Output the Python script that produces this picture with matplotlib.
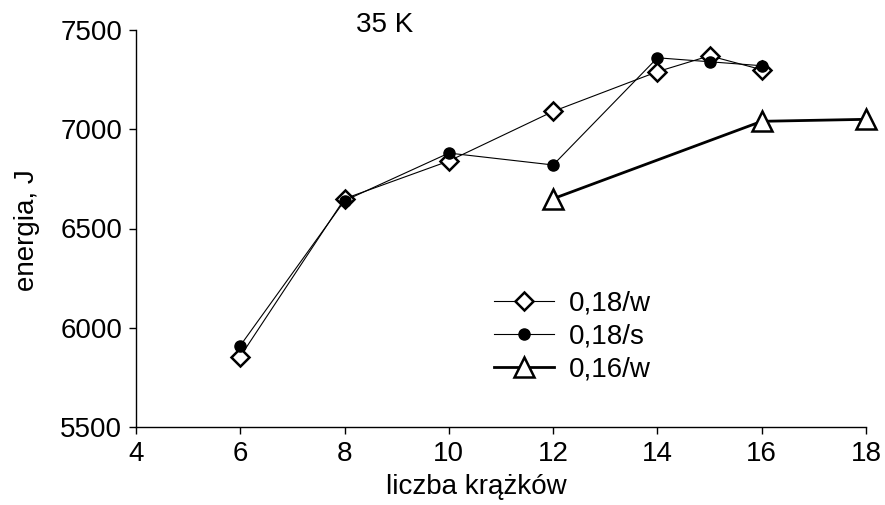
import matplotlib
matplotlib.use("Agg")
import matplotlib.pyplot as plt

plt.rcParams['font.family'] = ['Liberation Sans', 'DejaVu Sans']

# energy vs. number of discs, 35 K
x_w18 = [6, 8, 10, 12, 14, 15, 16]
e_w18 = [5855, 6650, 6840, 7090, 7290, 7370, 7300]

x_s18 = [6, 8, 10, 12, 14, 15, 16]
e_s18 = [5910, 6640, 6880, 6820, 7360, 7340, 7320]

x_w16 = [12, 16, 18]
e_w16 = [6650, 7040, 7050]

labels = ["0,18/w", "0,18/s", "0,16/w"]
xticks = [4, 6, 8, 10, 12, 14, 16, 18]
yticks = [5500, 6000, 6500, 7000, 7500]

W, H = 885, 505
fig = plt.figure(figsize=(W / 100, H / 100), dpi=100)
ax = fig.add_axes([136 / W, 1 - 427 / H, 730 / W, 397 / H])

ax.plot(x_w18, e_w18, color='black', lw=0.8, marker='D', markersize=9,
        markerfacecolor='white', markeredgecolor='black', markeredgewidth=1.8,
        label=labels[0], zorder=3, clip_on=False)
ax.plot(x_s18, e_s18, color='black', lw=0.8, marker='o', markersize=8,
        markerfacecolor='black', markeredgecolor='black',
        label=labels[1], zorder=4, clip_on=False)
ax.plot(x_w16, e_w16, color='black', lw=2.0, marker='^', markersize=15,
        markerfacecolor='white', markeredgecolor='black', markeredgewidth=1.8,
        label=labels[2], zorder=3, clip_on=False)

ax.set_xlim(4, 18)
ax.set_ylim(5500, 7500)
ax.set_xticks(xticks)
ax.set_yticks(yticks)
ax.tick_params(direction='out', length=5, width=1, labelsize=20, pad=5)
for s in ['top', 'right']:
    ax.spines[s].set_visible(False)
for s in ['left', 'bottom']:
    ax.spines[s].set_linewidth(1)

ax.set_xlabel("liczba krążków", fontsize=20)
ax.set_ylabel("energia, J", fontsize=20)
ax.xaxis.set_label_coords(476 / W, 1 - 474 / H, transform=fig.transFigure)
ax.yaxis.set_label_coords(40 / W, 1 - 230 / H, transform=fig.transFigure)
fig.text(385 / W, 1 - 25 / H, "35 K", fontsize=20, ha='center', va='center')

ax.legend(loc='upper left', bbox_to_anchor=(494 / W, 1 - 291 / H),
          bbox_transform=fig.transFigure, frameon=False,
          fontsize=20, handlelength=2.16, handletextpad=0.54,
          labelspacing=0.25, borderpad=0, borderaxespad=0)

fig.savefig("out.png", dpi=100)
